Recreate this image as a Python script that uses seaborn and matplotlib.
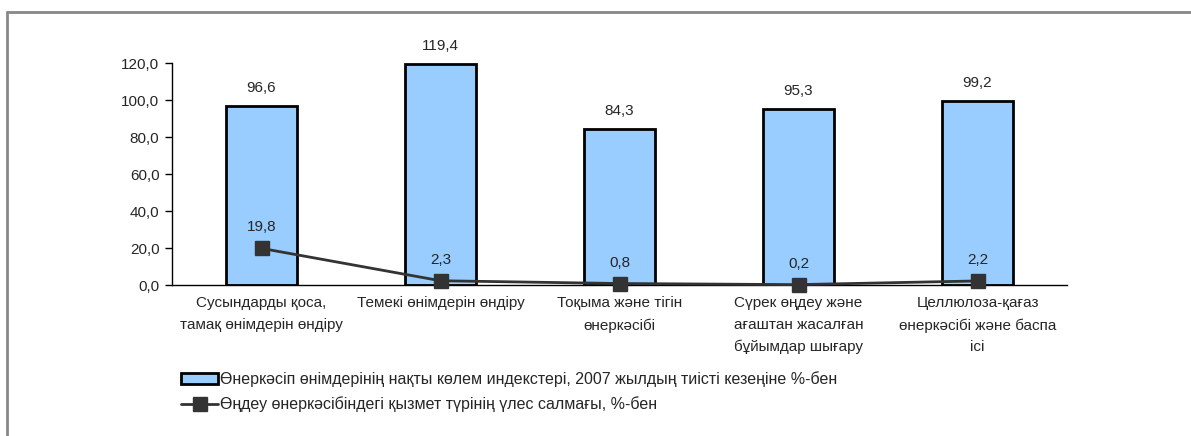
import numpy as np
import pandas as pd
import seaborn as sns
import matplotlib.pyplot as plt
from matplotlib.lines import Line2D
from matplotlib.patches import Patch

categories = [
    "Сусындарды қоса,\nтамақ өнімдерін өндіру",
    "Темекі өнімдерін өндіру",
    "Тоқыма және тігін\nөнеркәсібі",
    "Сүрек өңдеу және\nағаштан жасалған\nбұйымдар шығару",
    "Целлюлоза-қағаз\nөнеркәсібі және баспа\nісі",
]
volume_index = [96.6, 119.4, 84.3, 95.3, 99.2]
share = [19.8, 2.3, 0.8, 0.2, 2.2]
y_ticks = [0, 20, 40, 60, 80, 100, 120]

bar_label = "Өнеркәсіп өнімдерінің нақты көлем индекстері, 2007 жылдың тиісті кезеңіне %-бен"
line_label = "Өңдеу өнеркәсібіндегі қызмет түрінің үлес салмағы, %-бен"

sns.set_style("white")
plt.rcParams['font.family'] = ['Liberation Sans', 'DejaVu Sans']
plt.rcParams['font.size'] = 11

df = pd.DataFrame({"cat": categories, "vol": volume_index, "share": share})

fig = plt.figure(figsize=(11.91, 4.36), dpi=100)
ax = fig.add_axes([172 / 1191, 1 - 285 / 436, (1067 - 172) / 1191, (285 - 63) / 436])

sns.barplot(data=df, x="cat", y="vol", color="#99ccff", width=0.4,
            edgecolor="black", linewidth=2, saturation=1, ax=ax, zorder=2)
x = np.arange(len(categories))
ax.plot(x, share, color="#333333", linewidth=2, marker="s", markersize=10,
        markerfacecolor="#333333", markeredgecolor="#333333", zorder=3, clip_on=False)

for xi, v in zip(x, volume_index):
    ax.text(xi, v + 6, f"{v:.1f}".replace(".", ","), ha="center", va="bottom")
for xi, v in zip(x, share):
    ax.text(xi, v + 7.5, f"{v:.1f}".replace(".", ","), ha="center", va="bottom")

ax.set_xlim(-0.5, len(categories) - 0.5)
ax.set_ylim(0, 120)
ax.set_yticks(y_ticks)
ax.set_yticklabels([f"{t:.1f}".replace(".", ",") for t in y_ticks])
ax.set_xticks(np.arange(len(categories) + 1) - 0.5, minor=True)
ax.set_xticks(x)
ax.set_xticklabels(categories, linespacing=1.7)
ax.tick_params(axis="x", which="major", length=0, pad=8)
ax.tick_params(axis="x", which="minor", length=5, width=1, color="black", direction="out")
ax.tick_params(axis="y", length=5, width=1, color="black", direction="out", left=True, pad=4)
ax.set_xlabel("")
ax.set_ylabel("")
for s in ["top", "right"]:
    ax.spines[s].set_visible(False)
for s in ["left", "bottom"]:
    ax.spines[s].set_color("black")
    ax.spines[s].set_linewidth(1)

handles = [
    Patch(facecolor="#99ccff", edgecolor="black", linewidth=2, label=bar_label),
    Line2D([0], [0], color="#333333", linewidth=2, marker="s", markersize=10,
           markerfacecolor="#333333", label=line_label),
]
fig.legend(handles=handles, loc="upper left", bbox_to_anchor=(175 / 1191, 1 - 365 / 436),
           frameon=False, fontsize=11.5, handlelength=2.3, handletextpad=0.1,
           labelspacing=0.57, borderaxespad=0)

fig.add_artist(Line2D([7 / 1191, 7 / 1191], [0, 1 - 12 / 436], transform=fig.transFigure,
                      color="#888888", linewidth=2))
fig.add_artist(Line2D([7 / 1191, 1], [1 - 12 / 436, 1 - 12 / 436], transform=fig.transFigure,
                      color="#888888", linewidth=2))

fig.savefig("out.png", dpi=100)
